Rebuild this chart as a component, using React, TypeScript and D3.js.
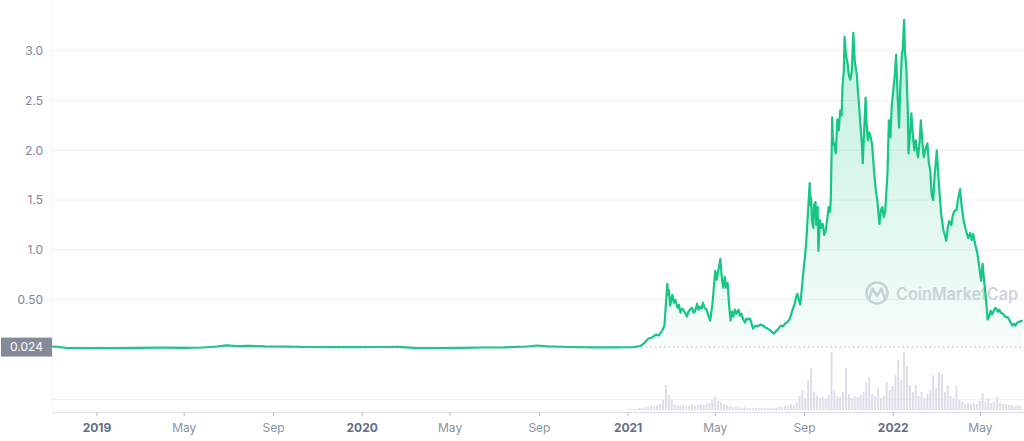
import React from "react";
import * as d3 from "d3";

const W = 1024;
const H = 441;

const priceDates = [
  "2018-10-31","2018-11-08","2018-11-20","2018-12-10","2019-01-05","2019-02-01","2019-03-01","2019-04-01",
  "2019-05-01","2019-05-25","2019-06-15","2019-06-28","2019-07-12","2019-07-28","2019-08-20","2019-09-20",
  "2019-10-20","2019-11-20","2019-12-20","2020-01-20","2020-02-20","2020-03-13","2020-04-15","2020-05-15",
  "2020-06-15","2020-07-15","2020-08-15","2020-08-28","2020-09-12","2020-10-12","2020-11-12","2020-12-12",
  "2021-01-08","2021-01-18","2021-01-24","2021-01-29","2021-02-03","2021-02-08","2021-02-12","2021-02-17","2021-02-20","2021-02-22",
  "2021-02-24","2021-02-25","2021-02-26","2021-02-28","2021-03-02","2021-03-03","2021-03-05","2021-03-07","2021-03-10","2021-03-12",
  "2021-03-14","2021-03-16","2021-03-18","2021-03-21","2021-03-23","2021-03-25","2021-03-27","2021-03-30","2021-04-01","2021-04-03",
  "2021-04-06","2021-04-08","2021-04-10","2021-04-12","2021-04-14","2021-04-16","2021-04-19","2021-04-22","2021-04-24","2021-04-27",
  "2021-04-29","2021-05-01","2021-05-03","2021-05-05","2021-05-08","2021-05-10","2021-05-12","2021-05-14","2021-05-16","2021-05-18",
  "2021-05-20","2021-05-22","2021-05-24","2021-05-26","2021-05-28","2021-05-30","2021-06-02","2021-06-04","2021-06-06","2021-06-08",
  "2021-06-11","2021-06-13","2021-06-15","2021-06-18","2021-06-20","2021-06-22","2021-06-25","2021-06-28","2021-07-02","2021-07-06",
  "2021-07-09","2021-07-12","2021-07-16","2021-07-20","2021-07-23","2021-07-26","2021-07-30","2021-08-02","2021-08-05","2021-08-08",
  "2021-08-11","2021-08-13","2021-08-15","2021-08-18","2021-08-20","2021-08-22","2021-08-24","2021-08-26","2021-08-28","2021-08-30",
  "2021-09-01","2021-09-03","2021-09-05","2021-09-07","2021-09-08","2021-09-09","2021-09-10","2021-09-11","2021-09-13","2021-09-14",
  "2021-09-16","2021-09-17","2021-09-19","2021-09-20","2021-09-22","2021-09-24","2021-09-26","2021-09-28","2021-09-30","2021-10-02",
  "2021-10-04","2021-10-06","2021-10-07","2021-10-09","2021-10-10","2021-10-12","2021-10-14","2021-10-16","2021-10-18","2021-10-20",
  "2021-10-22","2021-10-23","2021-10-25","2021-10-26","2021-10-28","2021-10-30","2021-11-01","2021-11-03","2021-11-05","2021-11-07",
  "2021-11-09","2021-11-10","2021-11-12","2021-11-13","2021-11-15","2021-11-17","2021-11-19","2021-11-20","2021-11-22","2021-11-24",
  "2021-11-25","2021-11-27","2021-11-29","2021-12-01","2021-12-03","2021-12-04","2021-12-06","2021-12-08","2021-12-10","2021-12-13",
  "2021-12-15","2021-12-17","2021-12-19","2021-12-21","2021-12-23","2021-12-24","2021-12-26","2021-12-28","2021-12-30","2022-01-01",
  "2022-01-03","2022-01-05","2022-01-07","2022-01-09","2022-01-11","2022-01-13","2022-01-14","2022-01-16","2022-01-17","2022-01-19",
  "2022-01-21","2022-01-22","2022-01-24","2022-01-26","2022-01-28","2022-01-30","2022-02-01","2022-02-04","2022-02-06","2022-02-08",
  "2022-02-10","2022-02-12","2022-02-14","2022-02-17","2022-02-19","2022-02-21","2022-02-23","2022-02-25","2022-02-27","2022-03-02",
  "2022-03-04","2022-03-06","2022-03-08","2022-03-11","2022-03-13","2022-03-15","2022-03-17","2022-03-19","2022-03-22","2022-03-24",
  "2022-03-26","2022-03-29","2022-03-31","2022-04-03","2022-04-05","2022-04-08","2022-04-11","2022-04-14","2022-04-17","2022-04-19",
  "2022-04-21","2022-04-24","2022-04-27","2022-04-29","2022-05-02","2022-05-04","2022-05-06","2022-05-08","2022-05-11","2022-05-13",
  "2022-05-15","2022-05-17","2022-05-20","2022-05-22","2022-05-25","2022-05-27","2022-05-29","2022-06-01","2022-06-04","2022-06-08",
  "2022-06-11","2022-06-14","2022-06-16","2022-06-18","2022-06-21","2022-06-24","2022-06-28",
];

const priceValues = [
  0.030,0.026,0.015,0.014,0.015,0.014,0.016,0.018,
  0.017,0.020,0.030,0.042,0.034,0.037,0.031,0.028,
  0.025,0.024,0.023,0.025,0.026,0.017,0.015,0.016,
  0.020,0.022,0.030,0.040,0.031,0.025,0.022,0.021,
  0.023,0.035,0.07,0.11,0.12,0.15,0.14,0.19,0.24,0.45,
  0.66,0.55,0.60,0.44,0.52,0.55,0.47,0.50,0.42,0.45,
  0.37,0.41,0.40,0.36,0.33,0.38,0.40,0.42,0.37,0.38,
  0.46,0.40,0.43,0.41,0.47,0.42,0.40,0.33,0.29,0.45,
  0.62,0.79,0.70,0.78,0.91,0.72,0.62,0.73,0.62,0.67,
  0.45,0.29,0.38,0.33,0.40,0.36,0.40,0.34,0.36,0.31,
  0.27,0.31,0.30,0.31,0.26,0.21,0.24,0.23,0.25,0.24,
  0.22,0.21,0.19,0.16,0.18,0.20,0.24,0.23,0.26,0.27,
  0.30,0.34,0.39,0.45,0.52,0.56,0.50,0.45,0.60,0.76,
  0.90,1.05,1.30,1.55,1.67,1.45,1.52,1.30,1.22,1.45,
  1.48,1.25,1.43,0.99,1.30,1.22,1.26,1.15,1.19,1.30,
  1.43,1.38,1.50,2.33,2.10,2.05,1.97,2.31,2.20,2.40,
  2.35,2.63,2.80,3.14,2.95,2.88,2.75,2.71,2.80,3.18,
  2.90,2.85,2.75,2.63,2.45,2.23,2.05,1.87,2.20,2.53,
  2.30,2.10,2.18,2.13,2.05,1.95,1.75,1.60,1.50,1.26,
  1.40,1.43,1.33,1.39,1.65,1.75,2.30,2.13,2.45,2.60,
  2.75,2.96,2.55,2.23,2.70,2.98,3.00,3.31,3.00,2.84,
  2.40,1.97,2.15,2.37,2.15,2.00,2.10,1.93,2.05,2.30,
  2.10,1.93,2.00,2.07,1.87,1.80,1.55,1.50,1.75,2.00,
  1.75,1.55,1.36,1.20,1.15,1.09,1.22,1.29,1.25,1.35,
  1.39,1.40,1.50,1.61,1.45,1.29,1.20,1.12,1.17,1.10,
  1.16,1.05,0.96,0.85,0.69,0.86,0.70,0.55,0.30,0.33,
  0.39,0.35,0.40,0.42,0.38,0.40,0.37,0.36,0.33,0.32,
  0.28,0.24,0.26,0.24,0.27,0.28,0.29,
];

// Volume: one bar every 4 days starting 2021-01-01
const volumeStart = "2021-01-01";
const volumeStepDays = 4;
const volumeValues = [
  1,1,1,1,2,2,3,3,4,4,5,6,10,25,15,10,6,5,4,5,
  4,4,5,4,5,6,5,6,7,10,13,9,8,6,5,4,3,3,3,2,
  3,2,2,2,2,2,2,2,2,2,2,2,3,3,4,4,6,5,8,14,
  20,12,30,42,18,14,12,13,11,15,58,20,14,13,18,42,16,12,14,13,
  15,18,28,33,16,14,22,12,14,28,20,24,35,50,30,58,44,25,18,25,
  14,18,12,16,20,35,22,38,36,18,25,14,12,24,10,8,6,7,6,7,
  6,9,17,8,12,7,8,13,7,6,6,5,5,4,5,4,
];

const yTicks = [0.5, 1.0, 1.5, 2.0, 2.5, 3.0];
const yTickLabels = ["0.50", "1.0", "1.5", "2.0", "2.5", "3.0"];

const xTickDates = [
  "2019-01-01","2019-05-01","2019-09-01","2020-01-01","2020-05-01","2020-09-01",
  "2021-01-01","2021-05-01","2021-09-01","2022-01-01","2022-05-01",
];
const xTickLabels = ["2019","May","Sep","2020","May","Sep","2021","May","Sep","2022","May"];
const xTickIsYear = [true,false,false,true,false,false,true,false,false,true,false];

const baselineValue = 0.024;
const baselineLabel = "0.024";

const parse = d3.utcParse("%Y-%m-%d");

export default function App() {
  const x = d3
    .scaleUtc()
    .domain([parse("2018-10-31")!, parse("2022-06-30")!])
    .range([52, 1024]);
  const y = d3.scaleLinear().domain([0, 3.0]).range([349.5, 50.7]);
  const yVol = d3.scaleLinear().domain([0, 60]).range([410, 350]);

  const data = priceDates.map((d, i) => ({ date: parse(d)!, v: priceValues[i] }));
  const line = d3
    .line<{ date: Date; v: number }>()
    .x((d) => x(d.date))
    .y((d) => y(d.v))
    .curve(d3.curveLinear);
  const yBase = y(baselineValue);
  const area = d3
    .area<{ date: Date; v: number }>()
    .x((d) => x(d.date))
    .y0(yBase)
    .y1((d) => y(d.v));

  const volStart = parse(volumeStart)!;
  const vols = volumeValues.map((v, i) => ({
    date: d3.utcDay.offset(volStart, i * volumeStepDays),
    v,
  }));

  const font = "Inter, 'Noto Sans', sans-serif";

  return (
    <svg
      width={W}
      height={H}
      style={{ position: "absolute", left: 0, top: 0, background: "#fff" }}
      fontFamily={font}
    >
      <defs>
        <linearGradient id="fillG" gradientUnits="userSpaceOnUse" x1="0" y1="20" x2="0" y2={yBase}>
          <stop offset="0" stopColor="#16c784" stopOpacity={0.28} />
          <stop offset="1" stopColor="#16c784" stopOpacity={0.03} />
        </linearGradient>
        <clipPath id="aboveBase">
          <rect x={52} y={0} width={W - 52} height={yBase} />
        </clipPath>
      </defs>

      {/* left frame line */}
      <line x1={52.5} x2={52.5} y1={0} y2={412} stroke="#f3f4f6" />

      {/* gridlines */}
      {yTicks.map((t) => (
        <line key={t} x1={52} x2={W} y1={y(t)} y2={y(t)} stroke="#f0f1f3" />
      ))}
      <line x1={52} x2={W} y1={399.5} y2={399.5} stroke="#f0f1f3" />

      {/* y tick labels */}
      {yTicks.map((t, i) => (
        <text
          key={t}
          x={43}
          y={y(t)}
          dy="0.35em"
          textAnchor="end"
          fontSize={12}
          fill="#7d8596"
        >
          {yTickLabels[i]}
        </text>
      ))}

      {/* volume bars */}
      {vols.map((d, i) => (
        <rect
          key={i}
          x={x(d.date) - 1}
          y={yVol(d.v)}
          width={2}
          height={410 - yVol(d.v)}
          fill="#dcdfe8"
        />
      ))}

      {/* x axis */}
      <line x1={52} x2={W} y1={412.5} y2={412.5} stroke="#dfe2e8" />
      {xTickDates.map((d, i) => {
        const px = x(parse(d)!);
        return (
          <g key={d}>
            <line x1={px} x2={px} y1={412} y2={416} stroke="#b8bdc8" />
            <text
              x={px}
              y={432}
              textAnchor="middle"
              fontSize={12}
              fontWeight={xTickIsYear[i] ? 700 : 400}
              fill={xTickIsYear[i] ? "#616e85" : "#8a91a3"}
            >
              {xTickLabels[i]}
            </text>
          </g>
        );
      })}

      {/* watermark */}
      <g opacity={0.9}>
        <circle cx={877} cy={293} r={10.5} fill="none" stroke="#cdd0d8" strokeWidth={2.6} />
        <path
          d="M869,299 L872.5,288.5 L877,296 L881.5,288.5 L885,299"
          fill="none"
          stroke="#cdd0d8"
          strokeWidth={2.6}
          strokeLinejoin="round"
          strokeLinecap="round"
        />
        <text
          x={896}
          y={299.5}
          fontSize={17}
          fontWeight={600}
          fill="#cdd0d8"
          textLength={122}
          lengthAdjust="spacingAndGlyphs"
        >
          CoinMarketCap
        </text>
      </g>

      {/* area */}
      <path d={area(data)!} fill="url(#fillG)" clipPath="url(#aboveBase)" />

      {/* price line */}
      <path
        d={line(data)!}
        fill="none"
        stroke="#16c784"
        strokeWidth={2.2}
        strokeLinejoin="round"
      />

      {/* baseline dotted */}
      <line
        x1={52}
        x2={W}
        y1={yBase}
        y2={yBase}
        stroke="#a6a9b3"
        strokeWidth={1}
        strokeDasharray="1.5,3"
        opacity={0.9}
      />

      {/* baseline label */}
      <rect x={1} y={yBase - 9.5} width={51} height={19} fill="#858a99" />
      <text
        x={26.5}
        y={yBase}
        dy="0.35em"
        textAnchor="middle"
        fontSize={12}
        fill="#ffffff"
      >
        {baselineLabel}
      </text>
    </svg>
  );
}
